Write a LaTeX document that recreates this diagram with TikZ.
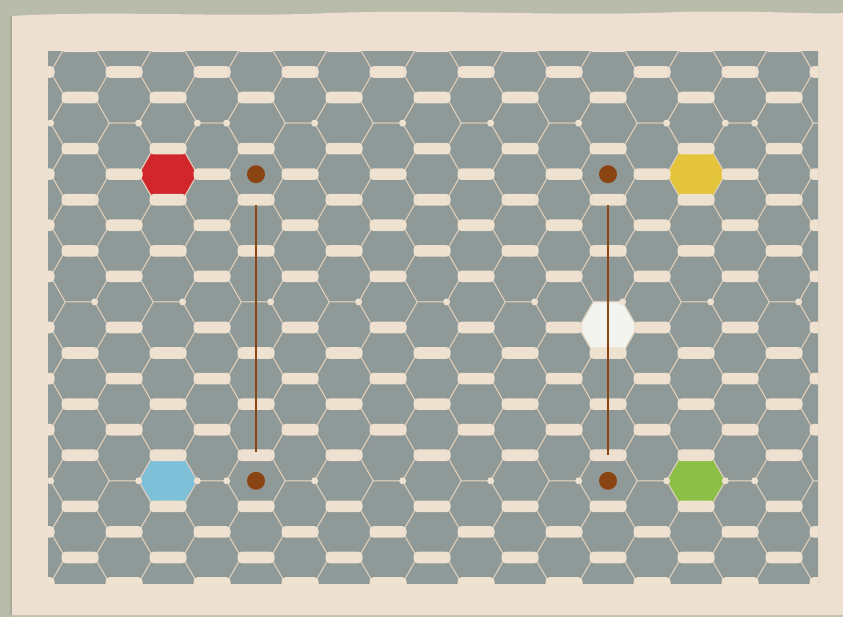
\documentclass[tikz,border=0pt]{standalone}
\definecolor{tablegreen}{HTML}{B9BCAA}
\definecolor{paper}{HTML}{EDE0D1}
\definecolor{paperedge}{HTML}{A9AC9B}
\definecolor{slate}{HTML}{8F9997}
\definecolor{seam}{HTML}{DDCEBB}
\definecolor{wall}{HTML}{EFE1CF}
\definecolor{rust}{HTML}{8B4513}
\definecolor{tokred}{HTML}{D1262B}
\definecolor{tokyellow}{HTML}{E3C43A}
\definecolor{tokblue}{HTML}{7FC0D9}
\definecolor{tokgreen}{HTML}{8BBF45}
\definecolor{tokwhite}{HTML}{F3F3EF}
\tikzset{
  hexcell/.pic={\path[pic actions] (-29.33,0) -- (-14.67,-25.55) -- (14.67,-25.55) -- (29.33,0) -- (14.67,25.55) -- (-14.67,25.55) -- cycle;},
  cell/.style={fill=slate,draw=seam,line width=1pt},
  token/.style={draw=seam,line width=1pt},
  wallbar/.style={fill=wall,rounded corners=4pt},
  peg/.style={fill=rust},
  rod/.style={draw=rust,line width=2.5pt}
}
\begin{document}
\begin{tikzpicture}[x=1pt,y=-1pt]
\useasboundingbox (0,0) rectangle (843,617);
\fill[tablegreen] (0,0) rectangle (843,617);
% paper
\fill[paper] (11,16) .. controls (120,10) and (220,18) .. (330,13) .. controls (450,9) and (560,17) .. (680,12) .. controls (760,10) and (820,15) .. (843,13) -- (843,615) -- (11,615) -- cycle;
\draw[paperedge,line width=1.5pt] (11,16) -- (11,615);
\fill[paperedge!60!paper] (11,615) rectangle (843,617);
% board
\begin{scope}
\clip (48,52) rectangle (818,583);
\fill[slate] (48,52) rectangle (818,583);
\foreach \k in {-1,...,17}{
  \pgfmathtruncatemacro\p{mod(\k+2,2)}
  \foreach \n in {-1,...,10}{
    \pgfmathsetmacro\cx{80+44*\k}
    \pgfmathsetmacro\cy{72+25.55*(2*\n+\p)}
    \pic[cell] at (\cx,\cy) {hexcell};
  }
}
% coloured cells
\foreach \c/\cx/\cy in {tokred/168/174.2, tokyellow/696/174.2, tokblue/168/480.8, tokgreen/696/480.8, tokwhite/608/327.5}
  \pic[token,fill=\c] at (\cx,\cy) {hexcell};
% walls
\foreach \k in {-1,...,17}{
  \pgfmathtruncatemacro\p{mod(\k+2,2)}
  \foreach \n in {-1,...,10}{
    \pgfmathtruncatemacro\j{2*\n+\p}
    \pgfmathtruncatemacro\t{mod(\j+14,7)}
    \pgfmathsetmacro\cx{80+44*\k}
    \pgfmathsetmacro\ey{97.55+25.55*\j}
    \ifnum\t=1
      \fill[wall] (\cx+14.67,\ey) circle (3.5);
    \else
      \fill[wallbar] (\cx-18.5,\ey-5.8) rectangle (\cx+18.5,\ey+5.8);
    \fi
  }
}
\foreach \sx/\sy in {197.3/123.1, 725.3/123.1, 197.3/480.8, 725.3/480.8}
  \fill[wall] (\sx,\sy) circle (3.5);
\end{scope}
% pegs and rods
\foreach \name/\px/\py in {pegNW/256/174.2, pegNE/608/174.2, pegSW/256/480.8, pegSE/608/480.8}
  \coordinate (\name) at (\px,\py);
\draw[rod] ([yshift=-31pt]pegNW) -- ([yshift=29pt]pegSW);
\draw[rod] ([yshift=-31pt]pegNE) -- ([yshift=26pt]pegSE);
\foreach \name in {pegNW,pegNE,pegSW,pegSE}
  \fill[peg] (\name) circle (9);
\end{tikzpicture}
\end{document}
